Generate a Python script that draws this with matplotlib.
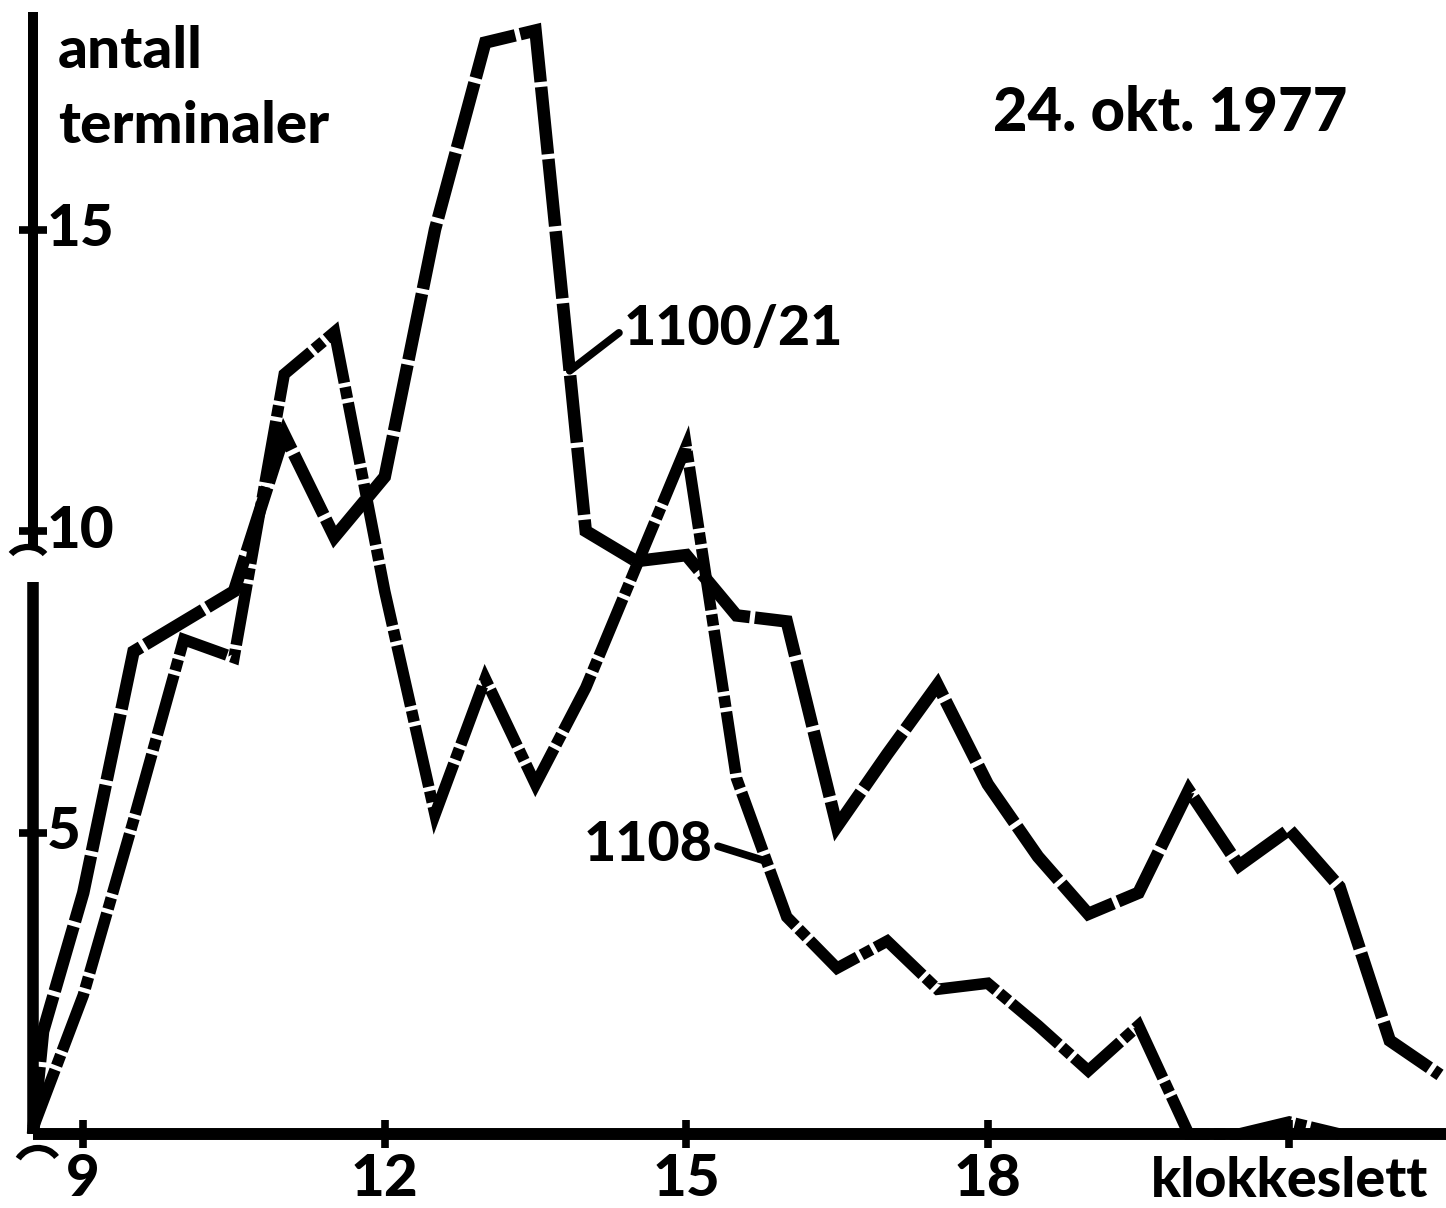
import numpy as np
import matplotlib
matplotlib.use("Agg")
import matplotlib.pyplot as plt
from matplotlib.patches import Arc
from matplotlib.transforms import IdentityTransform

plt.rcParams['font.family'] = ['Lato', 'DejaVu Sans']
plt.rcParams['font.weight'] = 'black'

# ---- data (hours of day, number of terminals) ----
hours_1100 = [8.5, 8.6, 9.0, 9.5, 10.0, 10.5, 11.0, 11.5, 12.0, 12.5, 13.0, 13.5, 14.0,
              14.5, 15.0, 15.5, 16.0, 16.5, 17.0, 17.5, 18.0, 18.5, 19.0, 19.5, 20.0,
              20.5, 21.0, 21.5, 22.0, 22.5]
vals_1100 = [0.0, 1.7, 4.0, 8.0, 8.5, 9.0, 11.6, 9.9, 10.9, 15.0, 18.1, 18.3, 10.0,
             9.5, 9.6, 8.6, 8.5, 5.1, 6.3, 7.45, 5.8, 4.6, 3.65, 4.0, 5.7,
             4.45, 5.05, 4.1, 1.55, 0.98]

hours_1108 = [8.5, 9.0, 9.5, 10.0, 10.5, 11.0, 11.5, 12.0, 12.5, 13.0, 13.5, 14.0, 14.5,
              15.0, 15.5, 16.0, 16.5, 17.0, 17.5, 18.0, 18.5, 19.0, 19.5, 20.0, 20.5,
              21.0, 21.5]
vals_1108 = [0.1, 2.3, 5.2, 8.2, 7.9, 12.6, 13.3, 9.0, 5.3, 7.55, 5.8, 7.4, 9.4,
             11.4, 5.9, 3.6, 2.75, 3.2, 2.4, 2.5, 1.8, 1.05, 1.8, 0.0, 0.0,
             0.2, 0.0]

x_ticks = [9, 12, 15, 18, 21]
x_tick_labels = ['9', '12', '15', '18', '']
y_ticks = [5, 10, 15]
y_tick_labels = ['5', '10', '15']

title = '24. okt. 1977'
ylabel_lines = ['antall', 'terminaler']
xlabel = 'klokkeslett'
name_1100 = '1100/21'
name_1108 = '1108'

# ---- figure ----
W, H = 1446, 1208
fig = plt.figure(figsize=(W / 100, H / 100), dpi=100)
ax_left, ax_bottom, ax_top = 33, 1134, 12
ax = fig.add_axes([ax_left / W, (H - ax_bottom) / H, (W - ax_left) / W, (ax_bottom - ax_top) / H])
px_per_hour = 100.5
px_per_unit = 60.3
ax.set_xlim(8.5, 8.5 + (W - ax_left) / px_per_hour)
ymax = (ax_bottom - ax_top) / px_per_unit
ax.set_ylim(0, ymax)

for s in ['top', 'right', 'left']:
    ax.spines[s].set_visible(False)
ax.spines['bottom'].set_linewidth(8.6)
ax.spines['bottom'].set_capstyle('butt')

# broken y-axis
brk_lo, brk_hi = 9.15, 9.75
ax.axvline(8.5, ymin=0, ymax=brk_lo / ymax, color='black', lw=8.3,
           solid_capstyle='butt', zorder=5, clip_on=False)
ax.axvline(8.5, ymin=brk_hi / ymax, ymax=1, color='black', lw=7.2,
           solid_capstyle='butt', zorder=5, clip_on=False)

ax.set_xticks(x_ticks)
ax.set_xticklabels(x_tick_labels)
ax.tick_params(axis='x', direction='inout', length=20, width=5.5, pad=4, labelsize=42, color='black')
ax.set_yticks(y_ticks)
ax.tick_params(axis='y', direction='inout', length=20, width=5.5, labelleft=False, color='black')
for v, lab in zip(y_ticks, y_tick_labels):
    ax.text(8.64, v, lab, ha='left', va='center', fontsize=42)

# series
l1, = ax.plot(hours_1100, vals_1100, color='black', lw=9.0, solid_joinstyle='miter',
              dash_joinstyle='miter', dash_capstyle='butt', clip_on=False, zorder=3)
l1.set_dashes((5.4, 0.4))
l2, = ax.plot(hours_1108, vals_1108, color='black', lw=8.3, solid_joinstyle='miter',
              dash_joinstyle='miter', dash_capstyle='butt', clip_on=False, zorder=3)
l2.set_dashes((5.4, 0.38, 1.0, 0.38))

# labels with leader lines
x_a = 13.84
ax.annotate(name_1100, xy=(x_a, np.interp(x_a, hours_1100, vals_1100)), xytext=(14.38, 13.35),
            ha='left', va='center', fontsize=40,
            arrowprops=dict(arrowstyle='-', lw=5.5, color='black', shrinkA=2, shrinkB=0,
                            relpos=(0, 0.5)))
x_b = 15.8
ax.annotate(name_1108, xy=(x_b, np.interp(x_b, hours_1108, vals_1108)), xytext=(13.98, 4.8),
            ha='left', va='center', fontsize=40,
            arrowprops=dict(arrowstyle='-', lw=5.5, color='black', shrinkA=2, shrinkB=0,
                            relpos=(1, 0.5)))

# texts
ax.text(8.75, 17.68, ylabel_lines[0], ha='left', va='baseline', fontsize=42)
ax.text(8.75, 16.43, ylabel_lines[1], ha='left', va='baseline', fontsize=42)
ax.text(19.82, 16.93, title, ha='center', va='center', fontsize=43)
ax.text(21.0, -1.04, xlabel, ha='center', va='baseline', fontsize=40, clip_on=False)

# break marks (arcs)
fig.add_artist(Arc((28, H - 562), 40, 30, theta1=25, theta2=155, lw=4.5, color='black',
                   transform=IdentityTransform()))
fig.add_artist(Arc((38, H - 1170), 46, 44, theta1=35, theta2=150, lw=4.5, color='black',
                   transform=IdentityTransform()))

fig.savefig('out.png', dpi=100, facecolor='white')
